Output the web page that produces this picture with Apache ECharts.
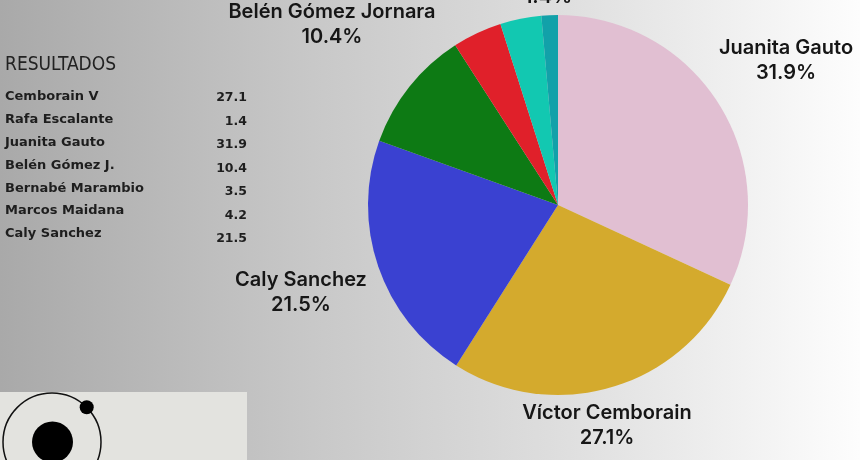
<!DOCTYPE html>
<html>
<head>
<meta charset="utf-8">
<script src="https://cdn.jsdelivr.net/npm/echarts@6/dist/echarts.min.js"></script>
<style>
  html, body { margin: 0; padding: 0; }
  #main { width: 860px; height: 460px; }
</style>
</head>
<body>
<div id="main"></div>
<script>
// pie slices, clockwise from 12 o'clock
var candidates = ['Juanita Gauto', 'Víctor Cemborain', 'Caly Sanchez', 'Belén Gómez Jornara',
                  'Marcos Maidana', 'Bernabé Marambio', 'Rafa Escalante'];
var shares = [31.9, 27.1, 21.5, 10.4, 4.2, 3.5, 1.4];
var colors = ['#e1bfd2', '#d4aa2d', '#3a41d1', '#0d7a14', '#e0202a', '#12c8b1', '#12a1a9'];
var showLabel = [true, true, true, true, false, false, true];

// results table on the left
var tableNames = ['Cemborain V', 'Rafa Escalante', 'Juanita Gauto', 'Belén Gómez J.',
                  'Bernabé Marambio', 'Marcos Maidana', 'Caly Sanchez'];
var tableValues = ['27.1', '1.4', '31.9', '10.4', '3.5', '4.2', '21.5'];

// where each label sits (centre of the two-line block)
var labelAt = {
    'Juanita Gauto': [786, 60],
    'Víctor Cemborain': [607, 425],
    'Caly Sanchez': [301, 292],
    'Belén Gómez Jornara': [332, 24],
    'Rafa Escalante': [548, -16]
};

var myChart = echarts.init(document.getElementById('main'));

var pieData = candidates.map(function (n, i) {
    return {
        name: n,
        value: shares[i],
        itemStyle: {color: colors[i]},
        label: {show: showLabel[i]}
    };
});

var graphics = [];
graphics.push({
    type: 'text', x: 5, y: 65,
    style: {
        text: 'RESULTADOS', fill: '#222', verticalAlign: 'middle',
        font: '19px "DejaVu Sans Condensed", "Liberation Sans Narrow", sans-serif'
    }
});
tableNames.forEach(function (n, i) {
    graphics.push({
        type: 'text', x: 5, y: 97 + i * 22.8,
        style: {
            text: n, fill: '#1e1e1e', verticalAlign: 'middle',
            font: 'bold 13px "DejaVu Sans", sans-serif'
        }
    });
    graphics.push({
        type: 'text', x: 247, y: 98 + i * 23.5,
        style: {
            text: tableValues[i], fill: '#1e1e1e', align: 'right', verticalAlign: 'middle',
            font: 'bold 12.5px "DejaVu Sans", sans-serif'
        }
    });
});
// logo box bottom left
graphics.push({
    type: 'rect', shape: {x: 0, y: 392, width: 247, height: 70},
    style: {fill: '#e3e3df'}
});
graphics.push({
    type: 'circle', shape: {cx: 52, cy: 442, r: 49},
    style: {fill: null, stroke: '#111', lineWidth: 1.5}
});
graphics.push({
    type: 'circle', shape: {cx: 52.5, cy: 442, r: 20.5},
    style: {fill: '#000'}
});
graphics.push({
    type: 'circle', shape: {cx: 86.7, cy: 407.3, r: 7},
    style: {fill: '#000'}
});

myChart.setOption({
    backgroundColor: new echarts.graphic.LinearGradient(0, 0, 1, 0, [
        {offset: 0, color: '#a9a9a9'},
        {offset: 0.35, color: '#c7c7c7'},
        {offset: 0.65, color: '#dedede'},
        {offset: 1, color: '#fdfdfd'}
    ]),
    animation: false,
    graphic: graphics,
    series: [
        {
            type: 'pie',
            center: [558, 205],
            radius: 190,
            startAngle: 90,
            clockwise: true,
            data: pieData,
            itemStyle: {borderWidth: 0},
            label: {
                position: 'outside',
                formatter: '{b}\n{c}%',
                color: '#161616',
                fontFamily: 'Inter',
                fontWeight: 600,
                fontSize: 20,
                lineHeight: 25,
                width: 240,
                overflow: 'none',
                align: 'center'
            },
            labelLine: {show: false},
            labelLayout: function (params) {
                var p = labelAt[candidates[params.dataIndex]];
                if (!p) return {};
                return {
                    x: p[0],
                    y: p[1],
                    align: 'center',
                    verticalAlign: 'middle'
                };
            }
        }
    ]
});
</script>
</body>
</html>
